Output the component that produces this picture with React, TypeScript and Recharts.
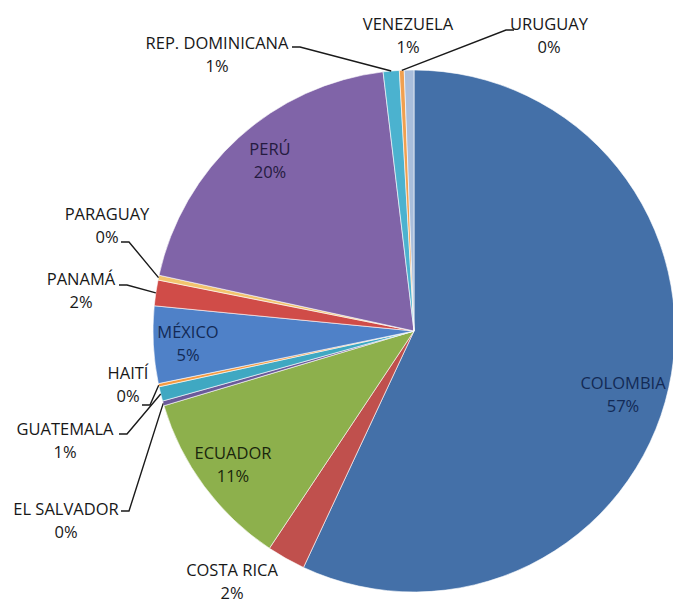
import React from 'react';
import { PieChart, Pie, Cell } from 'recharts';

// countries, clockwise from 12 o'clock
const countries = [
  'COLOMBIA', 'COSTA RICA', 'ECUADOR', 'EL SALVADOR', 'GUATEMALA', 'HAITÍ', 'MÉXICO',
  'PANAMÁ', 'PARAGUAY', 'PERÚ', 'REP. DOMINICANA', 'URUGUAY', 'VENEZUELA',
];
const counts = [573, 24, 111, 3, 9, 2, 48, 16, 3, 198, 10, 3, 6];

const colors = [
  '#4470a8', '#c0504d', '#8db04c', '#6a5a9a', '#3fa8c2', '#f59a40', '#4f81c8',
  '#d04c48', '#f2c46e', '#8064a8', '#4bb2cf', '#f0a050', '#a9bedc',
];

const data = countries.map((name, i) => ({ name, value: counts[i] }));

// where Excel put each label (text centre) and where its leader line starts
type LabelSpot = { x: number; y: number; color: string; from?: [number, number] };
const OUT = '#181818';
const labelSpots: Record<string, LabelSpot> = {
  'COLOMBIA': { x: 623, y: 382, color: '#132a55' },
  'COSTA RICA': { x: 232, y: 569, color: OUT },
  'ECUADOR': { x: 233, y: 452, color: '#1a260c' },
  'EL SALVADOR': { x: 66, y: 508, color: OUT, from: [121, 511] },
  'GUATEMALA': { x: 65, y: 428, color: OUT, from: [119, 434] },
  'HAITÍ': { x: 128, y: 372, color: OUT, from: [142, 405] },
  'MÉXICO': { x: 188, y: 331, color: '#132a55' },
  'PANAMÁ': { x: 81, y: 278, color: OUT, from: [119, 285] },
  'PARAGUAY': { x: 107, y: 213, color: OUT, from: [121, 242] },
  'PERÚ': { x: 270, y: 148, color: '#251b40' },
  'REP. DOMINICANA': { x: 217, y: 42, color: OUT, from: [292, 47] },
  'URUGUAY': { x: 549, y: 23, color: OUT, from: [514, 30] },
  'VENEZUELA': { x: 408, y: 23, color: OUT },
};

const RAD = Math.PI / 180;
const FONT = "'Open Sans', Lato, sans-serif";
const FS = 16.5;
const GAP = 23;

function SliceLabel(props: any) {
  const { cx, cy, midAngle, outerRadius, name, percent } = props;
  const spot = labelSpots[name];
  if (!spot) return null;
  let line = null;
  if (spot.from) {
    const ex = cx + outerRadius * Math.cos(-midAngle * RAD);
    const ey = cy + outerRadius * Math.sin(-midAngle * RAD);
    const [ax, ay] = spot.from;
    const bx = ax + (ex > ax ? 8 : -8);
    line = (
      <polyline
        points={`${ax},${ay} ${bx},${ay} ${ex},${ey}`}
        fill="none"
        stroke="#1a1a1a"
        strokeWidth={1.4}
      />
    );
  }
  const pct = `${Math.round(percent * 100)}%`;
  return (
    <g>
      {line}
      <text
        x={spot.x}
        y={spot.y}
        textAnchor="middle"
        dominantBaseline="central"
        fill={spot.color}
        fontSize={FS}
        fontFamily={FONT}
      >
        {name}
      </text>
      <text
        x={spot.x}
        y={spot.y + GAP}
        textAnchor="middle"
        dominantBaseline="central"
        fill={spot.color}
        fontSize={FS}
        fontFamily={FONT}
      >
        {pct}
      </text>
    </g>
  );
}

export default function App() {
  return (
    <div style={{ position: 'absolute', left: 0, top: 0, width: 673, height: 605, background: '#fff' }}>
      <PieChart width={673} height={605} margin={{ top: 0, right: 0, bottom: 0, left: 0 }}>
        <Pie
          data={data}
          dataKey="value"
          nameKey="name"
          cx={414}
          cy={331}
          outerRadius={261}
          startAngle={90}
          endAngle={-270}
          stroke="#ffffff"
          strokeWidth={0.6}
          label={SliceLabel}
          labelLine={false}
          isAnimationActive={false}
        >
          {data.map((d, i) => (
            <Cell key={d.name} fill={colors[i]} />
          ))}
        </Pie>
      </PieChart>
    </div>
  );
}
